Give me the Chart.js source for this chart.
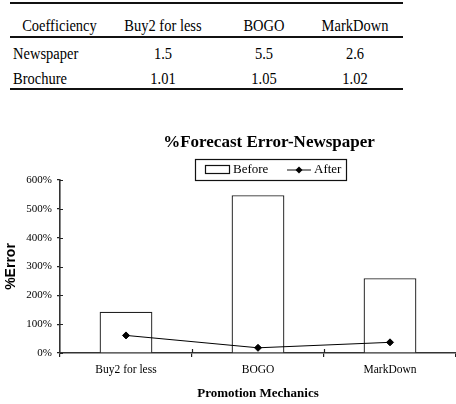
<!DOCTYPE html>
<html>
<head>
<meta charset="utf-8">
<script src="https://cdn.jsdelivr.net/npm/chart.js@4/dist/chart.umd.min.js"></script>
<style>
  html, body { margin: 0; padding: 0; background: #fff; overflow: hidden; width: 456px; height: 404px; }
  #coefTable {
    position: absolute; left: 10px; top: 2px; width: 393px;
    border-collapse: separate; border-spacing: 0;
    font-family: "Liberation Serif", "Times New Roman", serif; font-size: 14.5px; color: #000;
  }
  #coefTable th { font-weight: normal; height: 32px; line-height: 32px; padding: 0;
    border-top: 2px solid #111; border-bottom: 2px solid #111; }
  #coefTable th span { position: relative; top: 5px; }
  #coefTable td { height: 25px; line-height: 25px; padding: 0; text-align: center; }
  #coefTable td span { position: relative; top: 3px; }
  #coefTable tr:last-child td { border-bottom: 2px solid #111; }
  #coefTable td:first-child { text-align: left; padding-left: 3px; }
  #coefTable span { display: inline-block; transform: scaleY(1.2); }
  #chartBox { position: absolute; left: 0; top: 124px; width: 461px; height: 280px; }
</style>
</head>
<body>
<table id="coefTable">
  <colgroup><col style="width:103px"><col style="width:100px"><col style="width:102px"><col style="width:88px"></colgroup>
  <thead><tr id="headRow"></tr></thead>
  <tbody id="tableBody"></tbody>
</table>
<div id="chartBox"><canvas id="myChart" width="461" height="280"></canvas></div>
<script>
// Table data
const tableHeader = ['Coefficiency', 'Buy2 for less', 'BOGO', 'MarkDown'];
const tableRows = ['Newspaper', 'Brochure'];
const newspaperCoef = ['1.5', '5.5', '2.6'];
const brochureCoef = ['1.01', '1.05', '1.02'];

// Chart data
const chartTitle = '%Forecast Error-Newspaper';
const categories = ['Buy2 for less', 'BOGO', 'MarkDown'];
const beforeError = [143, 547, 259]; // % error before
const afterError = [61, 18, 37];     // % error after
const yMax = 600;
const yStep = 100;

// Build table
const headRow = document.getElementById('headRow');
tableHeader.forEach(function (h, i) {
  const th = document.createElement('th');
  th.innerHTML = '<span>' + h + '</span>';
  if (i === 0) th.style.paddingRight = '4px';
  if (i === 3) th.style.paddingRight = '8px';
  headRow.appendChild(th);
});
const body = document.getElementById('tableBody');
[newspaperCoef, brochureCoef].forEach(function (vals, r) {
  const tr = document.createElement('tr');
  [tableRows[r]].concat(vals).forEach(function (v, i) {
    const td = document.createElement('td');
    td.innerHTML = '<span>' + v + '</span>';
    if (i === 3) td.style.paddingRight = '8px';
    tr.appendChild(td);
  });
  body.appendChild(tr);
});

Chart.defaults.color = '#000';
Chart.defaults.font.family = '"Liberation Serif", "Times New Roman", serif';

// ticks crossing the axis lines (inner half)
const crossTicks = {
  id: 'crossTicks',
  afterDatasetsDraw(chart) {
    const ctx = chart.ctx, x = chart.scales.x, y = chart.scales.y;
    ctx.save();
    ctx.strokeStyle = '#222';
    ctx.lineWidth = 1.2;
    ctx.beginPath();
    for (let i = 1; i < categories.length; i++) {
      const px = Math.round(x.getPixelForValue(i - 0.5)) + 0.5;
      ctx.moveTo(px, y.bottom);
      ctx.lineTo(px, y.bottom - 4);
    }
    y.ticks.forEach(function (t) {
      const py = Math.round(y.getPixelForValue(t.value)) + 0.5;
      ctx.moveTo(x.left, py);
      ctx.lineTo(x.left + 3, py);
    });
    ctx.stroke();
    ctx.restore();
  }
};

// title and boxed legend like the original (centred at x=270)
const header = {
  id: 'header',
  afterDraw(chart) {
    const ctx = chart.ctx;
    const before = chart.data.datasets.find(function (d) { return d.type !== 'line'; });
    const after = chart.data.datasets.find(function (d) { return d.type === 'line'; });
    ctx.save();
    ctx.fillStyle = '#000';
    ctx.font = 'bold 17px "Liberation Serif", "Times New Roman", serif';
    ctx.textAlign = 'center';
    ctx.textBaseline = 'middle';
    ctx.fillText(chartTitle, 269, 19);

    const top = 35, h = 21, cy = top + h / 2;
    ctx.textAlign = 'left';
    ctx.strokeStyle = '#111';
    ctx.lineWidth = 1.2;
    ctx.strokeRect(195.5, top + 0.5, 151, h);
    // Before: open box
    ctx.fillStyle = '#fff';
    ctx.fillRect(205.5, cy - 4, 24, 8);
    ctx.strokeRect(205.5, cy - 4, 24, 8);
    ctx.fillStyle = '#000';
    ctx.font = '13px "Liberation Serif", "Times New Roman", serif';
    ctx.fillText(before.label, 233, cy + 0.5);
    // After: line with diamond
    ctx.lineWidth = 1;
    ctx.beginPath();
    ctx.moveTo(287, cy + 0.5);
    ctx.lineTo(311, cy + 0.5);
    ctx.stroke();
    ctx.beginPath();
    ctx.moveTo(299, cy - 3);
    ctx.lineTo(302.5, cy + 0.5);
    ctx.lineTo(299, cy + 4);
    ctx.lineTo(295.5, cy + 0.5);
    ctx.closePath();
    ctx.fill();
    ctx.fillText(after.label, 314, cy + 0.5);
    ctx.restore();
  }
};

new Chart(document.getElementById('myChart'), {
  type: 'bar',
  data: {
    labels: categories,
    datasets: [
      {
        type: 'line',
        label: 'After',
        data: afterError,
        order: 0,
        borderColor: '#000',
        borderWidth: 1,
        pointStyle: 'rectRot',
        pointRadius: 3.5,
        pointBackgroundColor: '#000',
        pointBorderColor: '#000',
        tension: 0
      },
      {
        type: 'bar',
        label: 'Before',
        data: beforeError,
        order: 1,
        backgroundColor: '#fff',
        borderColor: '#222',
        borderWidth: 1.3,
        categoryPercentage: 1,
        barPercentage: 0.4
      }
    ]
  },
  options: {
    responsive: false,
    animation: false,
    layout: { padding: { left: 0, right: 0, top: 56, bottom: 0 } },
    plugins: {
      legend: { display: false },
      tooltip: { enabled: false },
      title: { display: false }
    },
    scales: {
      x: {
        offset: true,
        grid: { offset: true, drawOnChartArea: false, tickLength: 4, color: '#222', lineWidth: 1.2 },
        border: { color: '#333', width: 1.6 },
        ticks: { font: { size: 11.5 }, padding: 6, maxRotation: 0 },
        title: {
          display: true,
          text: 'Promotion Mechanics',
          font: { size: 13, weight: 'bold' },
          padding: { top: 8, bottom: 3 }
        },
        afterFit(scale) { scale.height = 51; }
      },
      y: {
        min: 0,
        max: yMax,
        grid: { drawOnChartArea: false, tickLength: 3, color: '#222', lineWidth: 1.2 },
        border: { color: '#333', width: 1.6 },
        ticks: {
          stepSize: yStep,
          font: { size: 11 },
          padding: 5,
          callback: function (v) { return v + '%'; }
        },
        title: {
          display: true,
          text: '%Error',
          font: { family: '"Liberation Sans", Arial, sans-serif', size: 14, weight: 'bold' },
          padding: { top: 3, bottom: 4 }
        },
        afterFit(scale) { scale.width = 60; }
      }
    }
  },
  plugins: [crossTicks, header]
});
</script>
</body>
</html>
